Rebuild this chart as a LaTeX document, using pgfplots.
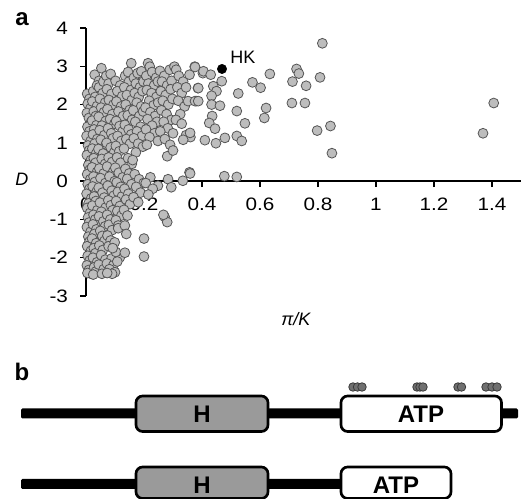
\documentclass[border=0pt]{standalone}
\usepackage{pgfplots}
\pgfplotsset{compat=1.18}
\usepackage{fontspec}
\setmainfont{Liberation Sans}
\newfontfamily\axfont[FakeStretch=1.15]{Liberation Sans}

\definecolor{dotfill}{HTML}{BDBDBD}
\definecolor{dotdraw}{HTML}{555555}
\definecolor{hbox}{HTML}{9A9A9A}
\definecolor{mutfill}{HTML}{707070}
\definecolor{mutdraw}{HTML}{3A3A3A}

\newcommand{\tickfont}{\axfont\fontsize{13.5}{15}\selectfont}
\newcommand{\labfont}{\fontsize{13.5}{15}\selectfont}
\newcommand{\boxfont}{\fontsize{18}{20}\selectfont\bfseries}

\begin{document}
\begin{tikzpicture}
\useasboundingbox (0,0) rectangle (394.5pt,374.25pt);

% panel b and the panel letters, in pixel units of the original figure
\begin{axis}[
    at={(0pt,0pt)}, anchor=south west,
    scale only axis, width=394.5pt, height=374.25pt,
    xmin=0, xmax=526, ymin=0, ymax=499, y dir=reverse,
    hide axis, clip=false,
]
\node[font=\fontsize{18}{20}\selectfont\bfseries] at (axis cs:22,19) {a};
\node[font=\fontsize{18}{20}\selectfont\bfseries] at (axis cs:22,372) {b};

% full-length protein
\fill[black, rounded corners=1pt] (axis cs:21,408.5) rectangle (axis cs:518,418.5);
\draw[line width=2pt, fill=hbox, rounded corners=5pt] (axis cs:136,396) rectangle (axis cs:268,431.5);
\node[font=\boxfont] at (axis cs:202,414.5) {H};
\draw[line width=2pt, fill=white, rounded corners=5pt] (axis cs:341,396) rectangle (axis cs:501.5,431.5);
\node[font=\boxfont] at (axis cs:421,414.5) {ATP};

% truncated protein
\fill[black, rounded corners=1pt] (axis cs:21,479) rectangle (axis cs:341,489);
\draw[line width=2pt, fill=hbox, rounded corners=5pt] (axis cs:136,467) rectangle (axis cs:268,498.5);
\node[font=\boxfont] at (axis cs:202,485) {H};
\draw[line width=2pt, fill=white, rounded corners=5pt] (axis cs:341,467) rectangle (axis cs:451,498.5);
\node[font=\boxfont] at (axis cs:396,485) {ATP};

% variant positions
\addplot[only marks, mark=*, mark size=3.2pt,
    mark options={fill=mutfill, draw=mutdraw, line width=0.6pt}] coordinates {
    (353,387) (357.5,387) (362,387)
    (417,387) (420,387) (423,387)
    (458,387) (461.5,387)
    (486,387) (492,387) (497,387)
};
\end{axis}

% panel a
\begin{axis}[
    at={(64.5pt,152.25pt)}, anchor=south west,
    scale only axis, width=326.25pt, height=201pt,
    xmin=0, xmax=1.5, ymin=-3, ymax=4,
    axis lines=middle, axis line style={-, line width=1.1pt},
    xtick={0,0.2,0.4,0.6,0.8,1,1.2,1.4}, xticklabels={},
    ytick={-3,-2,-1,0,1,2,3,4}, yticklabels={},
    tick align=outside, major tick length=4.5pt,
    tick style={line width=1.1pt, black},
    hide obscured x ticks=false, hide obscured y ticks=false,
    clip=false,
]
\addplot[only marks, mark=*, mark size=3.7pt,
    mark options={fill=dotfill, draw=dotdraw, line width=0.6pt}] coordinates {
    (0.004,2.28) (0.012,2.15) (0.006,2.02) (0.015,1.9) (0.003,1.78) (0.01,1.65)
    (0.018,1.55) (0.005,1.42) (0.012,1.3) (0.002,1.18) (0.016,1.05) (0.007,0.93)
    (0.011,0.8) (0.003,0.68) (0.017,0.55) (0.008,0.42) (0.013,0.3) (0.004,0.18)
    (0.015,0.05) (0.006,-0.08) (0.012,-0.2) (0.002,-0.33) (0.018,-0.45) (0.009,-0.58)
    (0.004,-0.7) (0.014,-0.83) (0.007,-0.95) (0.011,-1.08) (0.003,-1.2) (0.016,-1.32)
    (0.008,-1.45) (0.012,-1.58) (0.004,-1.7) (0.017,-1.82) (0.006,-1.95) (0.013,-2.07)
    (0.003,-2.2) (0.01,-2.32) (0.018,-2.42) (0.005,-2.4)
    (0.025,2.35) (0.032,2.2) (0.022,2.08) (0.038,1.96) (0.027,1.82) (0.034,1.7)
    (0.021,1.58) (0.036,1.46) (0.028,1.35) (0.024,1.22) (0.039,1.1) (0.03,0.98)
    (0.022,0.85) (0.035,0.72) (0.027,0.6) (0.033,0.48) (0.021,0.36) (0.038,0.24)
    (0.026,0.12) (0.031,-0.02) (0.023,-0.14) (0.037,-0.27) (0.028,-0.4) (0.034,-0.52)
    (0.022,-0.64) (0.039,-0.76) (0.026,-0.88) (0.032,-1.0) (0.024,-1.13) (0.036,-1.26)
    (0.029,-1.38) (0.021,-1.5) (0.035,-1.62) (0.027,-1.75) (0.033,-1.88) (0.024,-2.0)
    (0.038,-2.12) (0.028,-2.25) (0.034,-2.36) (0.025,-2.44)
    (0.03,2.78) (0.045,2.62) (0.053,2.95) (0.038,2.5)
    (0.045,2.45) (0.058,2.3) (0.048,2.15) (0.066,2.05) (0.052,1.92) (0.062,1.8)
    (0.044,1.68) (0.068,1.57) (0.055,1.45) (0.047,1.33) (0.063,1.2) (0.051,1.08)
    (0.069,0.96) (0.043,0.84) (0.059,0.72) (0.054,0.58) (0.066,0.45) (0.046,0.33)
    (0.061,0.2) (0.05,0.08) (0.067,-0.05) (0.044,-0.17) (0.057,-0.3) (0.063,-0.43)
    (0.048,-0.56) (0.068,-0.69) (0.053,-0.8) (0.045,-0.92) (0.06,-1.05) (0.066,-1.18)
    (0.049,-1.3) (0.056,-1.43) (0.064,-1.56) (0.046,-1.68) (0.058,-1.8) (0.052,-1.93)
    (0.067,-2.05) (0.044,-2.18) (0.061,-2.3) (0.055,-2.42)
    (0.06,2.6) (0.07,2.75) (0.078,2.55) (0.085,2.8)
    (0.072,2.4) (0.088,2.28) (0.079,2.12) (0.095,2.0) (0.074,1.88) (0.091,1.75)
    (0.083,1.62) (0.098,1.5) (0.076,1.38) (0.087,1.25) (0.093,1.12) (0.071,1.0)
    (0.085,0.88) (0.097,0.75) (0.078,0.62) (0.09,0.5) (0.073,0.38) (0.094,0.25)
    (0.081,0.12) (0.099,0.0) (0.075,-0.12) (0.089,-0.25) (0.096,-0.38) (0.077,-0.5)
    (0.086,-0.63) (0.092,-0.76) (0.073,-0.88) (0.084,-1.0) (0.079,-1.14) (0.09,-1.28)
    (0.074,-1.42) (0.085,-1.55) (0.078,-1.7) (0.088,-2.02) (0.072,-2.15) (0.094,-2.2)
    (0.081,-2.3) (0.1,-2.38) (0.09,-2.42) (0.073,-2.4)
    (0.102,2.62) (0.118,2.5) (0.108,2.35) (0.125,2.22) (0.105,2.08) (0.121,1.95)
    (0.112,1.82) (0.128,1.7) (0.104,1.57) (0.116,1.44) (0.126,1.3) (0.109,1.18)
    (0.122,1.05) (0.103,0.92) (0.115,0.78) (0.107,0.62) (0.119,0.48) (0.101,0.35)
    (0.113,0.22) (0.127,0.1) (0.106,-0.03) (0.12,-0.15) (0.11,-0.28) (0.124,-0.4)
    (0.104,-0.52) (0.117,-0.65) (0.108,-0.78) (0.122,-0.9) (0.103,-1.02) (0.111,-1.16)
    (0.111,-1.23) (0.117,-1.99) (0.103,-1.85) (0.108,-2.1) (0.099,-1.6) (0.092,-1.75)
    (0.135,2.75) (0.148,2.6) (0.132,2.45) (0.155,2.38) (0.141,2.25) (0.158,2.12)
    (0.137,2.0) (0.151,1.86) (0.144,1.72) (0.159,1.6) (0.134,1.47) (0.147,1.35)
    (0.156,1.22) (0.139,1.1) (0.152,0.98) (0.131,0.85) (0.145,0.6) (0.158,0.45)
    (0.136,0.32) (0.149,0.2) (0.142,0.06) (0.157,-0.08) (0.133,-0.2) (0.146,-0.33)
    (0.138,-0.48) (0.152,-0.6) (0.131,-0.75) (0.143,-0.9) (0.134,-1.16) (0.139,-1.38)
    (0.134,-1.87) (0.156,3.08) (0.145,2.85)
    (0.165,2.7) (0.178,2.82) (0.191,2.87) (0.172,2.55) (0.186,2.45) (0.198,2.6)
    (0.168,2.3) (0.182,2.2) (0.195,2.35) (0.175,2.05) (0.19,1.95) (0.163,1.85)
    (0.184,1.7) (0.197,1.82) (0.17,1.55) (0.188,1.42) (0.176,1.3) (0.193,1.18)
    (0.165,1.12) (0.18,0.98) (0.196,0.9) (0.172,0.75) (0.161,0.55) (0.168,0.18)
    (0.183,0.05) (0.199,-0.05) (0.173,-0.15) (0.188,-0.3) (0.164,-0.42) (0.18,-0.55)
    (0.2,-1.5) (0.2,-1.97)
    (0.214,3.08) (0.22,2.99) (0.208,2.75) (0.228,2.85) (0.242,2.7) (0.215,2.55)
    (0.235,2.5) (0.248,2.6) (0.21,2.38) (0.226,2.3) (0.243,2.2) (0.218,2.1)
    (0.233,1.98) (0.249,2.05) (0.205,1.92) (0.222,1.8) (0.238,1.7) (0.212,1.62)
    (0.245,1.55) (0.228,1.45) (0.207,1.35) (0.236,1.25) (0.219,1.15) (0.248,1.05)
    (0.21,0.95) (0.222,0.1) (0.206,-0.05) (0.248,-0.12) (0.23,-0.2) (0.215,-0.35)
    (0.255,2.88) (0.27,2.75) (0.289,2.91) (0.305,2.99) (0.311,2.91) (0.262,2.6)
    (0.28,2.5) (0.295,2.62) (0.258,2.35) (0.275,2.25) (0.292,2.4) (0.265,2.1)
    (0.284,2.0) (0.298,2.15) (0.26,1.85) (0.278,1.75) (0.294,1.6) (0.268,1.55)
    (0.282,1.38) (0.3,1.25) (0.256,1.3) (0.272,1.1) (0.29,0.95) (0.28,0.65)
    (0.3,0.8) (0.283,0.05) (0.294,-0.16) (0.271,-0.93) (0.28,-1.07) (0.267,-0.88)
    (0.32,2.75) (0.335,2.6) (0.315,2.45) (0.33,2.3) (0.345,2.45) (0.318,2.1)
    (0.34,1.95) (0.325,1.75) (0.31,1.6) (0.33,1.5) (0.345,1.2) (0.36,1.15)
    (0.335,1.08) (0.357,0.23) (0.334,0.01) (0.375,2.99) (0.357,2.78) (0.403,2.82)
    (0.386,2.43) (0.352,2.09) (0.38,2.09)
    (0.376,2.98) (0.405,2.87) (0.43,2.78) (0.468,2.61) (0.387,2.43) (0.439,2.48)
    (0.45,2.35) (0.433,2.23) (0.525,2.29) (0.574,2.58) (0.602,2.44) (0.634,2.8)
    (0.376,2.09) (0.387,2.09) (0.433,2.0) (0.462,1.97) (0.52,1.83) (0.621,1.91)
    (0.615,1.65) (0.435,1.7) (0.425,1.52) (0.445,1.37) (0.548,1.51) (0.359,1.26)
    (0.41,1.07) (0.448,0.99) (0.479,1.13) (0.52,1.18) (0.537,1.05) (0.359,0.2)
    (0.477,0.13) (0.52,0.11)
    (0.712,2.6) (0.726,2.93) (0.734,2.81) (0.759,2.49) (0.71,2.04) (0.755,2.04)
    (0.807,2.71) (0.815,3.6) (0.797,1.32) (0.843,1.44) (0.848,0.73)
    (1.369,1.25) (1.406,2.04)
};
\addplot[only marks, mark=*, mark size=3.5pt, black] coordinates {(0.469,2.93)};

% tick labels, set after the points so that they lie on top of them
\pgfplotsinvokeforeach{0,0.2,0.4,0.6,0.8,1,1.2,1.4}{
    \node[font=\tickfont, yshift=-17.25pt] at (axis cs:#1,0) {#1};
}
\pgfplotsinvokeforeach{-3,-2,-1,0,1,2,3,4}{
    \node[font=\tickfont, anchor=east, xshift=-10pt] at (axis cs:0,#1) {#1};
}

\node[anchor=base west, font=\labfont] at (axis cs:0.482,3.08) {HK};
\node[font=\labfont\itshape] at (axis cs:-0.221,0.05) {D};
\node[font=\labfont\itshape] at (axis cs:0.724,-3.61) {π/K};
\end{axis}
\end{tikzpicture}
\end{document}
